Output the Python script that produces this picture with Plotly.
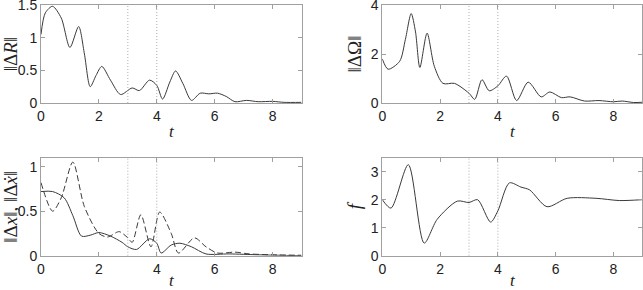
import plotly.graph_objects as go

# ---- data ----
t_R = [0, 0.15, 0.4, 0.7, 1.0, 1.3, 1.5, 1.7, 1.9, 2.1, 2.4, 2.75, 3.15, 3.4, 3.75, 4.0, 4.2, 4.45, 4.65, 4.9, 5.2, 5.5, 5.8, 6.1, 6.4, 6.7, 7.1, 7.5, 8.0, 8.4, 9.0]
dR  = [1.05, 1.38, 1.48, 1.3, 0.85, 1.17, 0.75, 0.25, 0.42, 0.56, 0.35, 0.13, 0.23, 0.19, 0.35, 0.27, 0.06, 0.32, 0.49, 0.3, 0.04, 0.15, 0.14, 0.15, 0.10, 0.02, 0.04, 0.02, 0.025, 0.01, 0.01]

t_W = [0, 0.2, 0.6, 0.8, 1.0, 1.15, 1.3, 1.55, 1.8, 2.1, 2.5, 3.0, 3.2, 3.45, 3.7, 4.0, 4.3, 4.65, 5.05, 5.5, 5.8, 6.2, 6.5, 7.0, 7.5, 8.0, 8.3, 8.7, 9.0]
dW  = [1.8, 1.38, 1.7, 2.6, 3.65, 2.9, 1.45, 2.85, 1.5, 0.8, 0.8, 0.4, 0.15, 0.95, 0.5, 0.7, 1.1, 0.1, 0.85, 0.25, 0.45, 0.22, 0.25, 0.08, 0.1, 0.05, 0.08, 0.02, 0.03]

t_x = [0, 0.4, 0.8, 1.1, 1.4, 1.7, 2.0, 2.4, 2.8, 3.0, 3.3, 3.75, 4.0, 4.15, 4.5, 4.8, 5.2, 5.7, 6.5, 7.5, 9.0]
dx  = [0.72, 0.72, 0.65, 0.45, 0.22, 0.23, 0.26, 0.22, 0.15, 0.10, 0.07, 0.19, 0.14, 0.03, 0.12, 0.14, 0.10, 0.02, 0.02, 0.01, 0.0]

t_xd = [0, 0.4, 0.7, 1.1, 1.5, 2.0, 2.3, 2.7, 3.0, 3.15, 3.45, 3.8, 4.1, 4.5, 4.75, 5.3, 5.7, 6.1, 6.7, 7.2, 8.0, 9.0]
dxd  = [0.82, 0.5, 0.65, 1.05, 0.55, 0.25, 0.21, 0.27, 0.2, 0.15, 0.46, 0.1, 0.49, 0.25, 0.03, 0.2, 0.1, 0.03, 0.04, 0.02, 0.01, 0.005]

t_f = [0, 0.3, 0.9, 1.45, 1.9, 2.6, 3.0, 3.3, 3.75, 4.0, 4.4, 4.8, 5.1, 5.7, 6.4, 7.4, 8.2, 9.0]
f   = [2.0, 1.7, 3.25, 0.45, 1.3, 1.95, 1.9, 2.0, 1.2, 1.6, 2.6, 2.45, 2.35, 1.75, 2.05, 2.05, 1.97, 2.0]

switch_times = [3, 4]
x_ticks = [0, 2, 4, 6, 8]

LINE = dict(color="#3a3a3a", width=1, shape="spline", smoothing=0.8)

fig = go.Figure()
fig.add_trace(go.Scatter(x=t_R, y=dR, mode="lines", line=LINE, xaxis="x", yaxis="y"))
fig.add_trace(go.Scatter(x=t_W, y=dW, mode="lines", line=LINE, xaxis="x2", yaxis="y2"))
fig.add_trace(go.Scatter(x=t_x, y=dx, mode="lines", line=LINE, xaxis="x3", yaxis="y3"))
fig.add_trace(go.Scatter(x=t_xd, y=dxd, mode="lines", line=dict(LINE, dash="6px,3px"), xaxis="x3", yaxis="y3"))
fig.add_trace(go.Scatter(x=t_f, y=f, mode="lines", line=LINE, xaxis="x4", yaxis="y4"))

W, H = 643, 290
xdom_l = [41 / W, 301.5 / W]
xdom_r = [382.3 / W, 642.3 / W]
ydom_t = [1 - 103 / H, 1 - 5 / H]
ydom_b = [1 - 255.7 / H, 1 - 157.7 / H]

axcommon = dict(showline=True, linecolor="#a0a0a0", linewidth=1, mirror="ticks",
                ticks="inside", ticklen=4, tickcolor="#a0a0a0", showgrid=False,
                zeroline=False, automargin=False, ticklabeloverflow="allow",
                tickfont=dict(family="Liberation Sans, Arial", size=14, color="#222"))
xttl_font = dict(family="Liberation Serif, DejaVu Serif", size=17, color="#222")
yttl_font = dict(family="Liberation Serif, DejaVu Serif", size=19, color="#222")

def xax(dom, anchor):
    return dict(axcommon, domain=dom, anchor=anchor, range=[0, 9], tickvals=x_ticks,
                title=dict(text="<i>t</i>", font=xttl_font, standoff=2))

def yax(dom, anchor, rng, tv, title, standoff):
    return dict(axcommon, domain=dom, anchor=anchor, range=rng, tickvals=tv,
                title=dict(text=title, font=yttl_font, standoff=standoff))

fig.update_layout(
    width=W, height=H, margin=dict(l=0, r=0, t=0, b=0, autoexpand=False),
    paper_bgcolor="white", plot_bgcolor="white", showlegend=False,
    xaxis=xax(xdom_l, "y"),
    yaxis=yax(ydom_t, "x", [0, 1.5], [0, 0.5, 1, 1.5], "‖Δ<i>R</i>‖", 4),
    xaxis2=xax(xdom_r, "y2"),
    yaxis2=yax(ydom_t, "x2", [0, 4], [0, 2, 4], "‖ΔΩ‖", 4),
    xaxis3=xax(xdom_l, "y3"),
    yaxis3=yax(ydom_b, "x3", [0, 1.1], [0, 0.5, 1], "‖Δ<i>x</i>‖, ‖Δ<i>ẋ</i>‖", 4),
    xaxis4=xax(xdom_r, "y4"),
    yaxis4=yax(ydom_b, "x4", [0, 3.5], [0, 1, 2, 3], "<i>f</i>", 4),
)
fig.update_yaxes(tickformat="~g")

shapes = []
for xr, yr in [("x", "y"), ("x2", "y2"), ("x3", "y3"), ("x4", "y4")]:
    for ts in switch_times:
        shapes.append(dict(type="line", xref=xr, yref=yr + " domain", x0=ts, x1=ts, y0=0, y1=1,
                           line=dict(color="#999999", width=0.8, dash="1px,2px")))
fig.update_layout(shapes=shapes)

fig.write_html("out.html", config={"displayModeBar": False},
               post_script="document.body.style.margin='0';")
